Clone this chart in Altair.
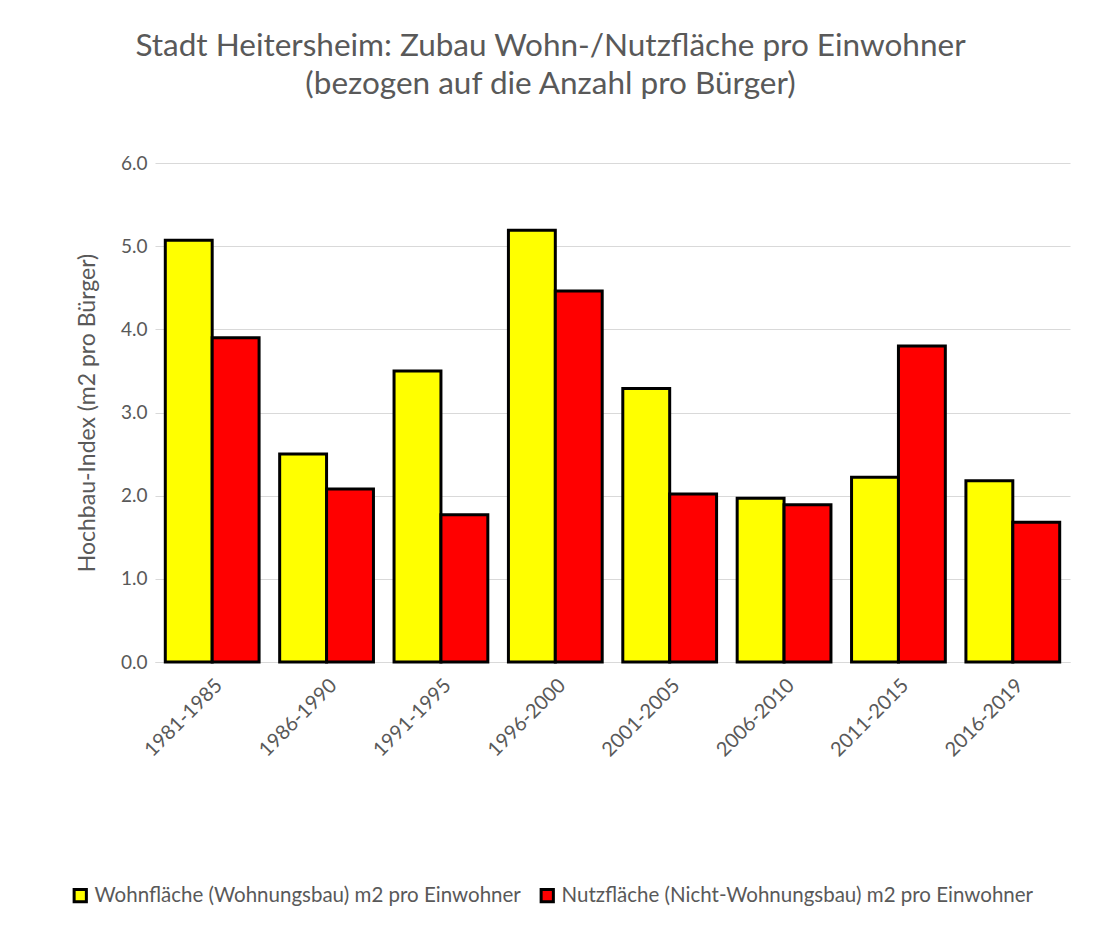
import altair as alt
import pandas as pd

periods = ["1981-1985", "1986-1990", "1991-1995", "1996-2000",
           "2001-2005", "2006-2010", "2011-2015", "2016-2019"]
wohn = [5.07, 2.50, 3.50, 5.19, 3.29, 1.97, 2.22, 2.18]
nutz = [3.90, 2.08, 1.77, 4.46, 2.02, 1.89, 3.80, 1.68]
series = ["Wohnfläche (Wohnungsbau) m2 pro Einwohner",
          "Nutzfläche (Nicht-Wohnungsbau) m2 pro Einwohner"]
colors = ["#ffff00", "#ff0000"]

rows = []
for p, w, n in zip(periods, wohn, nutz):
    rows.append({"Zeitraum": p, "Serie": series[0], "Wert": w})
    rows.append({"Zeitraum": p, "Serie": series[1], "Wert": n})
df = pd.DataFrame(rows)

font = "Lato"
grey = "#595959"

chart = alt.Chart(df).mark_bar(stroke="black", strokeWidth=3).encode(
    x=alt.X("Zeitraum:N", sort=periods, title=None,
            scale=alt.Scale(paddingInner=0.18, paddingOuter=0.09),
            axis=alt.Axis(labelAngle=-45, labelFontSize=20, labelColor=grey,
                          labelFont=font, ticks=False, domain=True,
                          domainColor="#d9d9d9", labelPadding=13)),
    xOffset=alt.XOffset("Serie:N", sort=series),
    y=alt.Y("Wert:Q", title="Hochbau-Index (m2 pro Bürger)",
            scale=alt.Scale(domain=[0, 6]),
            axis=alt.Axis(values=[0, 1, 2, 3, 4, 5, 6], format=".1f",
                          labelFontSize=19, labelColor=grey, labelFont=font,
                          titleFontSize=23, titleColor=grey, titleFont=font,
                          titleFontWeight="normal", ticks=False, domain=False,
                          gridColor="#d9d9d9", labelPadding=8, titlePadding=21)),
    color=alt.Color("Serie:N", sort=series,
                    scale=alt.Scale(domain=series, range=colors),
                    legend=alt.Legend(orient="none", legendX=-85, legendY=722,
                                      title=None, direction="horizontal",
                                      symbolType="square", symbolStrokeColor="black",
                                      symbolStrokeWidth=3, symbolSize=150,
                                      labelFontSize=20.5, labelColor=grey, labelFont=font,
                                      columnPadding=14, labelLimit=600)),
).properties(
    width=915, height=499,
    autosize=alt.AutoSizeParams(type="none"),
    padding={"left": 147, "top": 155, "right": 22, "bottom": 255},
    title=alt.TitleParams(
        text=["Stadt Heitersheim: Zubau Wohn-/Nutzfläche pro Einwohner",
              "(bezogen auf die Anzahl pro Bürger)"],
        fontSize=31.5, font=font, color=grey, fontWeight="normal",
        anchor="middle", lineHeight=38, offset=54, dx=-62),
).configure(background="white").configure_view(stroke=None)

chart.save("out.html", embed_options={"renderer": "svg", "actions": False})
